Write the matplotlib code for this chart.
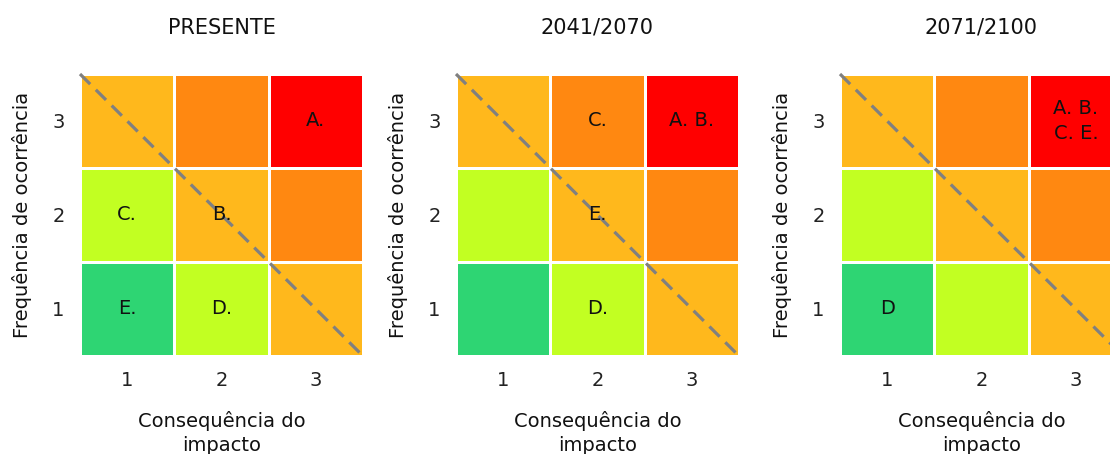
import matplotlib

matplotlib.use("Agg")

import matplotlib.pyplot as plt
import numpy as np
from matplotlib.colors import ListedColormap

# risk level per cell, rows = frequency 1..3, cols = consequence 1..3
risk_levels = [
    [0, 1, 2],
    [1, 2, 3],
    [2, 3, 4],
]
risk_colors = ["#2ed573", "#c2ff22", "#ffb81c", "#ff8811", "#ff0000"]

ticks = [1, 2, 3]
panel_titles = ["PRESENTE", "2041/2070", "2071/2100"]

# (consequence, frequency, text) per panel
panel_labels = [
    [(3, 3, "A."), (1, 2, "C."), (2, 2, "B."), (1, 1, "E."), (2, 1, "D.")],
    [(2, 3, "C."), (3, 3, "A. B."), (2, 2, "E."), (2, 1, "D.")],
    [(3, 3, "A. B.\nC. E."), (1, 1, "D")],
]

plt.rcParams["font.family"] = ["DejaVu Sans"]

fig = plt.figure(figsize=(11.1, 4.54), dpi=100)
lefts = [80 / 1110, 456 / 1110, 840 / 1110]
width = 283 / 1110
bottom = 1 - 356 / 454
height = 282 / 454

cmap = ListedColormap(risk_colors)
edges = np.arange(0.5, 4.0, 1.0)

for left, title, labels in zip(lefts, panel_titles, panel_labels):
    ax = fig.add_axes([left, bottom, width, height])
    ax.pcolormesh(edges, edges, np.array(risk_levels), cmap=cmap, vmin=-0.5, vmax=4.5,
                  edgecolors="white", linewidth=2)
    ax.plot([0.5, 3.5], [3.5, 0.5], color="#808080", linestyle=(0, (4.5, 2.5)), linewidth=2.3,
            clip_on=False)
    for cx, cy, txt in labels:
        ax.text(cx, cy, txt, ha="center", va="center", fontsize=14, color="#111111",
                linespacing=1.45)
    ax.set_xlim(0.5, 3.5)
    ax.set_ylim(0.5, 3.5)
    ax.set_xticks(ticks)
    ax.set_yticks(ticks)
    ax.tick_params(length=0, labelsize=14, pad=11, colors="#222222")
    for s in ax.spines.values():
        s.set_visible(False)
    ax.set_title(title, fontsize=15, pad=29, color="#111111")
    ax.set_xlabel("Consequência do\nimpacto", fontsize=14, labelpad=15, color="#111111",
                  linespacing=1.3)
    ax.set_ylabel("Frequência de ocorrência", fontsize=14, labelpad=15, color="#111111")

fig.savefig("out.png", dpi=100)
